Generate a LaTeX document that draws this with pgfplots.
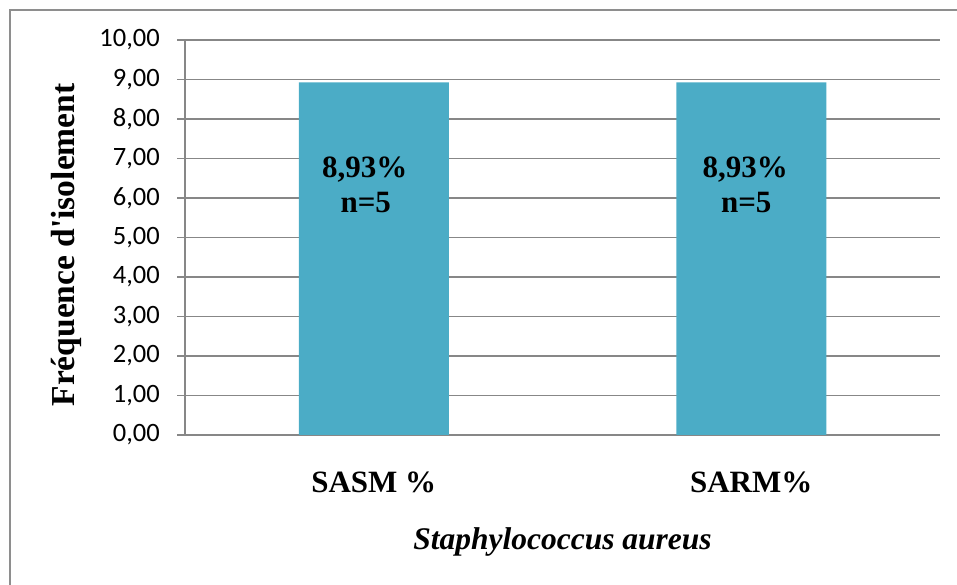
\documentclass[border=0pt]{standalone}
\usepackage{fontspec}
\setmainfont{Liberation Serif}[Ligatures=TeXOff]
\newfontfamily\carlito{Carlito}
\usepackage{pgfplots}
\pgfplotsset{compat=1.18}
\definecolor{barblue}{HTML}{4BACC6}
\definecolor{gridgray}{HTML}{878787}
\definecolor{framegray}{HTML}{8E8E8E}

\begin{document}
\begin{tikzpicture}[x=1bp,y=1bp]
\useasboundingbox (0,0) rectangle (957,585);
% outer chart frame
\draw[framegray, line width=2bp] (9.5,-5) -- (9.5,574.5) -- (962,574.5);
\begin{axis}[
  at={(185bp,150bp)}, anchor=south west,
  scale only axis, width=755bp, height=395bp,
  xmin=-0.5, xmax=1.5, ymin=0, ymax=10,
  axis x line*=bottom, axis y line*=left,
  axis line style={-, gridgray, line width=1.5bp},
  ytick={0,1,...,10},
  ymajorgrids, grid style={gridgray, line width=1.5bp},
  tick align=outside, major tick length=8bp,
  ytick style={gridgray, line width=1.5bp},
  xtick={0,1}, xticklabels={SASM \%, SARM\%},
  xtick style={draw=none},
  /pgf/number format/fixed, /pgf/number format/fixed zerofill,
  /pgf/number format/precision=2, /pgf/number format/use comma,
  /pgf/number format/assume math mode=true,
  yticklabel style={font=\carlito\fontsize{26.5bp}{30bp}\selectfont, anchor=east, inner sep=0pt, xshift=-17bp},
  xticklabel style={font=\bfseries\fontsize{31bp}{36bp}\selectfont, anchor=base, inner sep=0pt, yshift=-50bp},
]
\addplot[ybar, bar width=150bp, fill=barblue, draw=none] coordinates {(0,8.93) (1,8.93)};
\node[anchor=base, font=\bfseries\fontsize{31bp}{36bp}\selectfont, xshift=-9bp] at (axis cs:0,6.53) {8,93\%};
\node[anchor=base, font=\bfseries\fontsize{31bp}{36bp}\selectfont, xshift=-8bp] at (axis cs:0,5.63) {n=5};
\node[anchor=base, font=\bfseries\fontsize{31bp}{36bp}\selectfont, xshift=-6bp] at (axis cs:1,6.53) {8,93\%};
\node[anchor=base, font=\bfseries\fontsize{31bp}{36bp}\selectfont, xshift=-5bp] at (axis cs:1,5.63) {n=5};
\end{axis}
\node[rotate=90, anchor=base, inner sep=0pt, font=\bfseries\fontsize{33.5bp}{38bp}\selectfont] at (74,340) {Fréquence d'isolement};
\node[anchor=base, inner sep=0pt, font=\bfseries\itshape\fontsize{31.5bp}{38bp}\selectfont] at (562.5,35) {Staphylococcus aureus};
\end{tikzpicture}
\end{document}
